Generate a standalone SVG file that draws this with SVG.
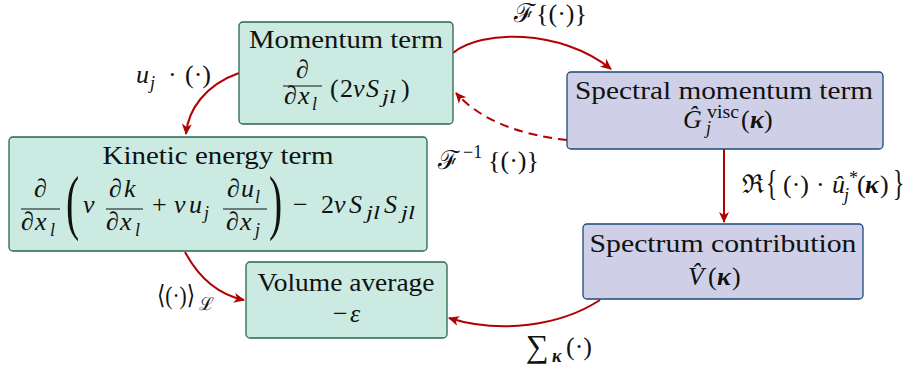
<svg xmlns="http://www.w3.org/2000/svg" width="909" height="370" viewBox="0 0 909 370">
<defs>
<style>
text{font-family:"Liberation Serif","DejaVu Serif",serif;font-size:26px;fill:#111}
.i{font-style:italic}
.b{font-style:italic;font-weight:bold}
.s{font-size:18px}
.m{text-anchor:middle}
.g{fill:#cbebe2;stroke:#2a6548;stroke-width:1.3}
.v{fill:#cfd0e7;stroke:#1e4a78;stroke-width:1.3}
.fr{stroke:#111;stroke-width:1.2}
.c{fill:none;stroke:#b30000;stroke-width:2}
.d{stroke-dasharray:9,6}
</style>
<marker id="ah" viewBox="-12 -6 14 12" refX="0" refY="0" markerWidth="14" markerHeight="12" markerUnits="userSpaceOnUse" orient="auto">
<path d="M1,0 L-10,-5 L-7,0 L-10,5 Z" fill="#b30000"/>
</marker>
</defs>

<g id="connectors">
<path class="c" d="M453,53 C480,30 560,28 611,69" marker-end="url(#ah)"/>
<path class="c d" d="M567,140 C520,135 480,120 456,93" marker-end="url(#ah)"/>
<path class="c" d="M239,73 C205,85 188,110 186,134" marker-end="url(#ah)"/>
<path class="c" d="M724,149 L724,222" marker-end="url(#ah)"/>
<path class="c" d="M185,252 C200,280 220,295 244,300" marker-end="url(#ah)"/>
<path class="c" d="M600,300 C560,326 500,334 449,318" marker-end="url(#ah)"/>
</g>

<g id="momentum">
<rect class="g" x="239" y="22" width="214" height="102" rx="4"/>
<text class="m" x="346" y="48" textLength="194" lengthAdjust="spacingAndGlyphs">Momentum term</text>
<text x="296" y="78">∂</text>
<line class="fr" x1="283" y1="86" x2="322" y2="86"/>
<text x="284" y="104">∂</text>
<text class="i" x="298" y="104">x</text>
<text class="i s" x="312" y="110">l</text>
<text x="330" y="97">(</text>
<text x="340" y="97">2</text>
<text class="i" x="353" y="97">ν</text>
<text class="i" x="366" y="97">S</text>
<text class="i s" x="382" y="103" textLength="14" lengthAdjust="spacingAndGlyphs">jl</text>
<text x="401" y="97">)</text>
</g>

<g id="spectral">
<rect class="v" x="567" y="72" width="316" height="77" rx="4"/>
<text class="m" x="724" y="99" textLength="298" lengthAdjust="spacingAndGlyphs">Spectral momentum term</text>
<text class="i" x="683" y="128">Ĝ</text>
<text class="s" x="707" y="118" textLength="32" lengthAdjust="spacingAndGlyphs">visc</text>
<text class="i s" x="706" y="134">j</text>
<text x="741" y="128">(</text>
<text class="b" x="750" y="128">κ</text>
<text x="764" y="128">)</text>
</g>

<g id="kinetic">
<rect class="g" x="9" y="137" width="418" height="114" rx="4"/>
<text class="m" x="218" y="164" textLength="231" lengthAdjust="spacingAndGlyphs">Kinetic energy term</text>
<text x="34" y="197">∂</text>
<line class="fr" x1="21" y1="209" x2="60" y2="209"/>
<text x="21" y="230">∂</text>
<text class="i" x="35" y="230">x</text>
<text class="i s" x="50" y="236">l</text>
<text transform="translate(66,226) scale(0.55,1)" style="font-size:72px">(</text>
<text class="i" x="83" y="213">ν</text>
<text x="109" y="197">∂</text>
<text class="i" x="124" y="197">k</text>
<line class="fr" x1="106" y1="209" x2="143" y2="209"/>
<text x="106" y="230">∂</text>
<text class="i" x="120" y="230">x</text>
<text class="i s" x="135" y="236">l</text>
<text x="152" y="213">+</text>
<text class="i" x="174" y="213">ν</text>
<text class="i" x="189" y="213">u</text>
<text class="i s" x="204" y="219">j</text>
<text x="227" y="197">∂</text>
<text class="i" x="241" y="197">u</text>
<text class="i s" x="255" y="203">l</text>
<line class="fr" x1="223" y1="209" x2="267" y2="209"/>
<text x="226" y="230">∂</text>
<text class="i" x="240" y="230">x</text>
<text class="i s" x="255" y="236">j</text>
<text transform="translate(269,226) scale(0.55,1)" style="font-size:72px">)</text>
<text x="293" y="213">−</text>
<text x="321" y="213">2</text>
<text class="i" x="334" y="213">ν</text>
<text class="i" x="349" y="213">S</text>
<text class="i s" x="366" y="219" textLength="14" lengthAdjust="spacingAndGlyphs">jl</text>
<text class="i" x="384" y="213">S</text>
<text class="i s" x="401" y="219" textLength="14" lengthAdjust="spacingAndGlyphs">jl</text>
</g>

<g id="volume">
<rect class="g" x="246" y="262" width="201" height="76" rx="4"/>
<text class="m" x="346" y="291" textLength="177" lengthAdjust="spacingAndGlyphs">Volume average</text>
<text x="333" y="322">−</text>
<text class="i" x="350" y="322">ε</text>
</g>

<g id="spectrum">
<rect class="v" x="583" y="224" width="280" height="75" rx="4"/>
<text class="m" x="723" y="252" textLength="267" lengthAdjust="spacingAndGlyphs">Spectrum contribution</text>
<text class="i" x="688" y="285">V̂</text>
<text x="708" y="285">(</text>
<text class="b" x="717" y="285">κ</text>
<text x="732" y="285">)</text>
</g>

<g id="labels">
<text x="514" y="22">ℱ</text>
<text x="536" y="22">{(·)}</text>
<text class="i" x="136" y="83">u</text>
<text class="i s" x="150" y="89">j</text>
<text x="168" y="83">·</text>
<text x="185" y="83">(·)</text>
<text x="438" y="169">ℱ</text>
<text class="s" x="463" y="158">−1</text>
<text x="488" y="169">{(·)}</text>
<text x="742" y="193">ℜ</text>
<text transform="translate(766,195) scale(0.65,1)" style="font-size:36px">{</text>
<text x="783" y="193">(·)</text>
<text x="816" y="193">·</text>
<text class="i" x="832" y="193">û</text>
<text class="i s" x="844" y="201">j</text>
<text class="s" x="849" y="184">*</text>
<text x="857" y="193">(</text>
<text class="b" x="865" y="193">κ</text>
<text x="880" y="193">)</text>
<text transform="translate(893,195) scale(0.65,1)" style="font-size:36px">}</text>
<text x="157" y="304" textLength="38" lengthAdjust="spacingAndGlyphs">⟨(·)⟩</text>
<text class="s" x="199" y="310">ℒ</text>
<text x="526" y="357" style="font-size:32px">∑</text>
<text class="b s" x="552" y="362">κ</text>
<text x="566" y="355">(·)</text>
</g>
</svg>
